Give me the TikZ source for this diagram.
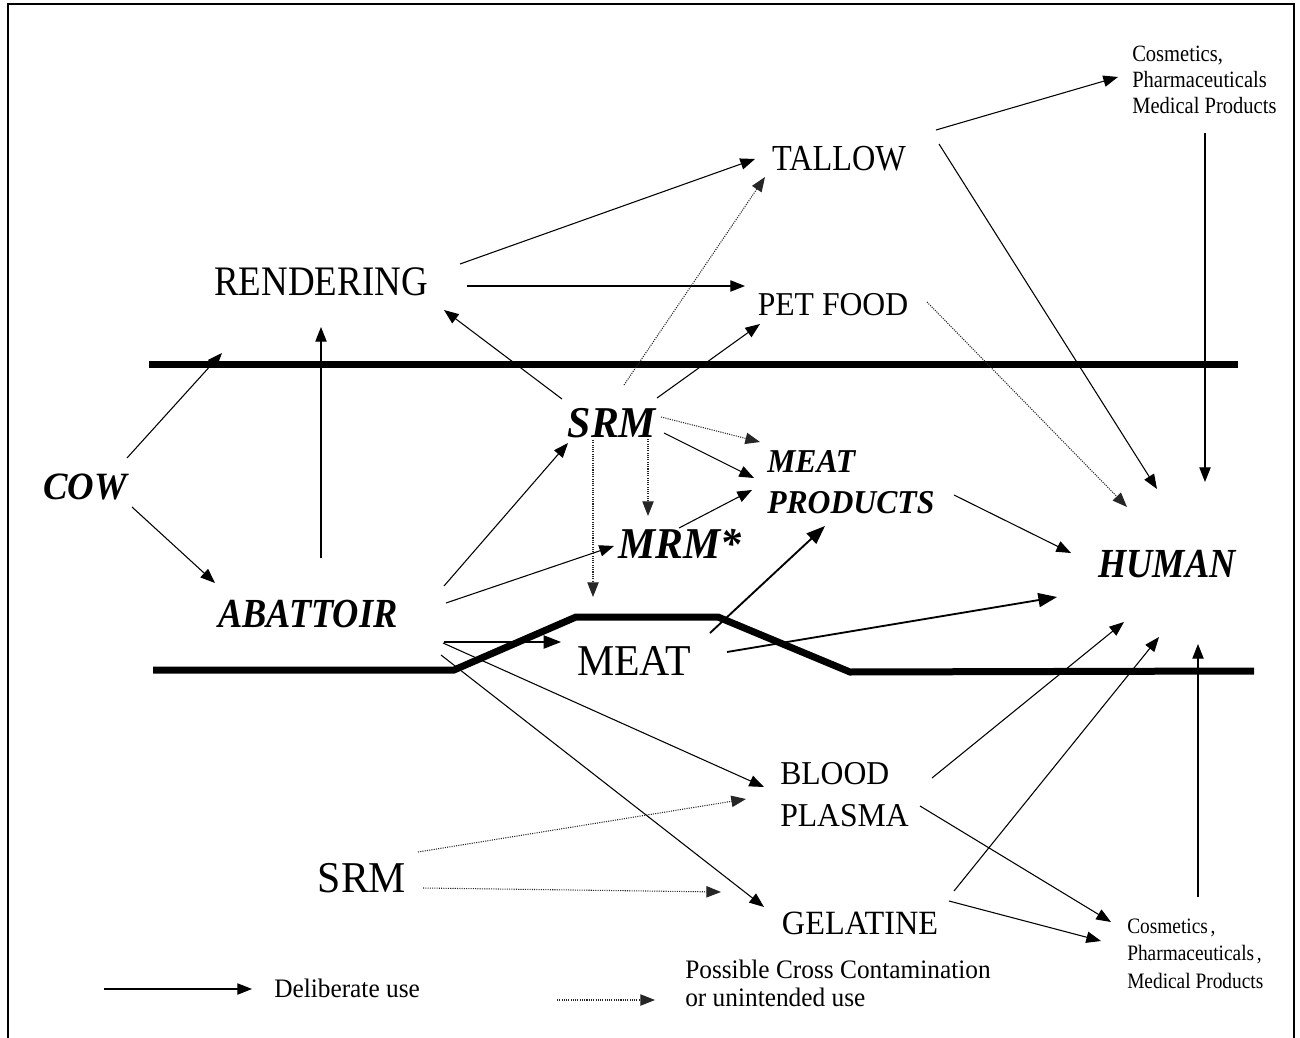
\documentclass[tikz,border=0pt]{standalone}
\usepackage{fontspec}
\setmainfont{Liberation Serif}[FakeStretch=0.95]
\newfontfamily\cnd{Liberation Serif}[FakeStretch=0.88]
\usetikzlibrary{arrows.meta}
\begin{document}
\begin{tikzpicture}[x=0.75pt,y=-0.75pt,
  lbl/.style={inner sep=0pt, anchor=base},
  lbll/.style={inner sep=0pt, anchor=base west, align=left},
  arr/.style={line width=0.8pt, -{Triangle[length=11pt,width=8.5pt]}},
  darr/.style={line width=0.8pt, black!85, dash pattern=on 0.8pt off 0.9pt, -{Triangle[length=11pt,width=8.5pt]}},
  barr/.style={line width=1.4pt, -{Triangle[length=14pt,width=10.5pt]}},
  wall/.style={line width=5.25pt, line join=miter},
  frame/.style={line width=1.5pt}
]
\useasboundingbox (0,0) rectangle (1300,1038);
% frame
\draw[frame] (8,1038) -- (8,4) -- (1294,4) -- (1294,1038);
% barrier lines
\draw[wall] (149,364) -- (1238,364);
\draw[wall] (153,670) -- (454,670) -- (576,617) -- (718,617) -- (850,672) -- (1254,671);

% nodes (multi-line nodes are anchored at the baseline of their last line)
\node[lbl, font=\cnd\fontsize{27.5}{31}\selectfont] (tallow) at (839,171) {TALLOW};
\node[lbl, font=\cnd\fontsize{31.5}{36}\selectfont] (ren) at (321,295) {RENDERING};
\node[lbl, font=\fontsize{25}{30}\selectfont] (pet) at (833,315) {PET FOOD};
\node[lbl, font=\bfseries\itshape\fontsize{33}{38}\selectfont] (srm) at (612,437) {SRM};
\node[lbll, font=\bfseries\itshape\fontsize{25}{30.75}\selectfont] (mp) at (767,513) {MEAT\\PRODUCTS};
\node[lbl, font=\bfseries\itshape\fontsize{29}{34}\selectfont] (cow) at (85,499) {COW};
\node[lbl, font=\bfseries\itshape\fontsize{33}{38}\selectfont] (mrm) at (680,558) {MRM*};
\node[lbl, font=\cnd\bfseries\itshape\fontsize{31}{36}\selectfont] (human) at (1167,577) {HUMAN};
\node[lbl, font=\cnd\bfseries\itshape\fontsize{31}{36}\selectfont] (abat) at (308,627) {ABATTOIR};
\node[lbl, font=\fontsize{33}{38}\selectfont] (meat) at (634,675) {MEAT};
\node[lbll, font=\fontsize{25}{31.5}\selectfont] (blood) at (780,826) {BLOOD\\PLASMA};
\node[lbl, font=\fontsize{33}{38}\selectfont] (srm2) at (362,892) {SRM};
\node[lbl, font=\fontsize{25.5}{30}\selectfont] (gel) at (860,934) {GELATINE};
\begin{scope}
\clip (0,0) rectangle (1277,1038);
\node[lbll, font=\cnd\fontsize{17.5}{19.5}\selectfont] (cos1) at (1132,114) {Cosmetics,\\Pharmaceuticals\\Medical Products};
\end{scope}
\node[lbll, font=\cnd\fontsize{16.5}{20.6}\selectfont] (cos2) at (1127,988) {Cosmetics\kern2pt,\\Pharmaceuticals\kern2pt,\\Medical Products};
\node[lbll, font=\fontsize{20}{22}\selectfont] (leg1) at (274,997) {Deliberate use};
\node[lbll, font=\fontsize{20}{21}\selectfont] (leg2) at (685,1006) {Possible Cross Contamination\\or unintended use};

% connectors
\draw[arr] ([shift={(42,-41)}]cow.base) -- ([shift={(-99,58)}]ren.base);
\draw[arr] ([shift={(47,8)}]cow.base) -- ([shift={(-93,-44)}]abat.base);
\draw[arr] ([shift={(13,-69)}]abat.base) -- ([shift={(0,32)}]ren.base);
\draw[arr] ([shift={(139,-31)}]ren.base) -- ([shift={(-84,-12)}]tallow.base);
\draw[arr] ([shift={(146,-9)}]ren.base) -- ([shift={(-88,-29)}]pet.base);
\draw[arr] ([shift={(-50,-38)}]srm.base) -- ([shift={(123,15)}]ren.base);
\draw[darr] ([shift={(12,-52)}]srm.base) -- ([shift={(-74,6)}]tallow.base);
\draw[arr] ([shift={(45,-39)}]srm.base) -- ([shift={(-73,9)}]pet.base);
\draw[darr] ([shift={(49,-20)}]srm.base) -- ([shift={(-7,-71)}]mp.base west);
\draw[arr] ([shift={(52,-4)}]srm.base) -- ([shift={(-13,-35)}]mp.base west);
\draw[darr] ([shift={(36,2)}]srm.base) -- ([shift={(-32,-42)}]mrm.base);
\draw[darr] ([shift={(-19,3)}]srm.base) -- ([shift={(-41,-78)}]meat.base);
\draw[arr] ([shift={(-1,-30)}]mrm.base) -- ([shift={(-15,-23)}]mp.base west);
\draw[arr] ([shift={(136,-41)}]abat.base) -- ([shift={(-44,6)}]srm.base);
\draw[arr] ([shift={(138,-24)}]abat.base) -- ([shift={(-66,-12)}]mrm.base);
\draw[arr, -{Triangle[length=13pt,width=10pt]}] ([shift={(136,15)}]abat.base) -- ([shift={(-73,-33)}]meat.base);
\draw[barr] ([shift={(76,-42)}]meat.base) -- ([shift={(58,13)}]mp.base west);
\draw[barr] ([shift={(93,-23)}]meat.base) -- ([shift={(-110,20)}]human.base);
\draw[arr] ([shift={(135,16)}]abat.base) -- ([shift={(-16,-39)}]blood.base west);
\draw[arr] ([shift={(133,28)}]abat.base) -- ([shift={(-96,-27)}]gel.base);
\draw[darr] ([shift={(56,-40)}]srm2.base) -- ([shift={(-34,-27)}]blood.base west);
\draw[darr] ([shift={(61,-4)}]srm2.base) -- ([shift={(-139,-42)}]gel.base);
\draw[arr] ([shift={(97,-41)}]tallow.base) -- ([shift={(-14,-37)}]cos1.base west);
\draw[arr] ([shift={(100,-27)}]tallow.base) -- ([shift={(-10,-88)}]human.base);
\draw[darr] ([shift={(94,-13)}]pet.base) -- ([shift={(-40,-70)}]human.base);
\draw[arr] ([shift={(73,19)}]cos1.base west) -- ([shift={(38,-95)}]human.base);
\draw[arr] ([shift={(187,-18)}]mp.base west) -- ([shift={(-96,-24)}]human.base);
\draw[arr] ([shift={(152,-48)}]blood.base west) -- ([shift={(-43,45)}]human.base);
\draw[arr] ([shift={(94,-43)}]gel.base) -- ([shift={(-8,60)}]human.base);
\draw[arr] ([shift={(140,-20)}]blood.base west) -- ([shift={(-16,-66)}]cos2.base west);
\draw[arr] ([shift={(89,-33)}]gel.base) -- ([shift={(-26,-47)}]cos2.base west);
\draw[arr] ([shift={(71,-91)}]cos2.base west) -- ([shift={(31,67)}]human.base);

% legend
\draw[arr] ([shift={(-170,-8)}]leg1.base west) -- ([shift={(-22,-8)}]leg1.base west);
\draw[darr] ([shift={(-128,-6)}]leg2.base west) -- ([shift={(-30,-6)}]leg2.base west);
\end{tikzpicture}
\end{document}
